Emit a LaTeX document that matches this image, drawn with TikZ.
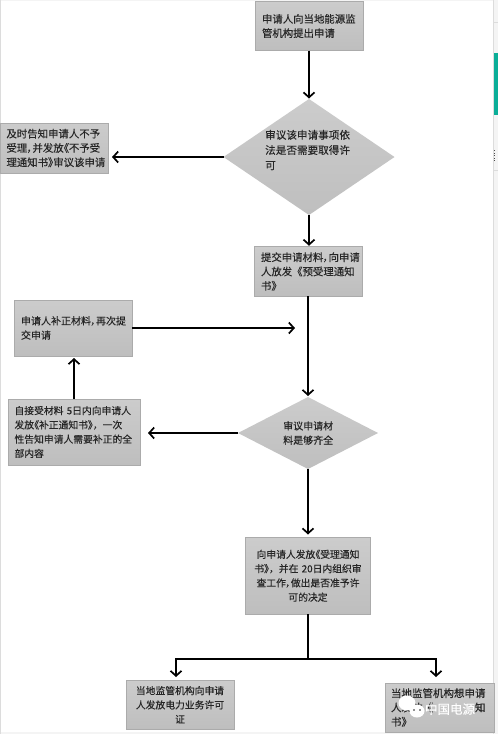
\documentclass[tikz,border=0pt]{standalone}
\usepackage{fontspec}
\setmainfont[FakeBold=0.25]{Noto Sans CJK SC}
\newfontfamily\halffont[RawFeature=+palt,FakeBold=0.25]{Noto Sans CJK SC}
\newcommand{\hw}[1]{{\halffont #1}}
\usetikzlibrary{arrows.meta,shapes.geometric}
\definecolor{ink}{HTML}{262626}
\definecolor{boxline}{HTML}{ABABAB}
\definecolor{boxtop}{HTML}{CCCCCC}
\definecolor{boxbot}{HTML}{BEBEBE}
\definecolor{strip}{HTML}{F4F4F4}
\definecolor{stripline}{HTML}{DCDCDC}
\definecolor{teal}{HTML}{0BAE98}
\tikzset{
  x=1pt,y=-1pt,
  boxn/.style n args={4}{draw=boxline,line width=.7pt,top color=boxtop,bottom color=boxbot,
    minimum width=#1pt,minimum height=#2pt,inner xsep=#3pt,inner ysep=0pt,outer sep=0pt,
    text width=#1pt-2*#3pt,text=ink,align=left,font=\fontsize{#4}{14.3}\selectfont},
  dia/.style n args={3}{diamond,draw=none,top color=boxtop,bottom color=boxbot!95!boxtop,minimum width=#1pt,minimum height=#2pt,
    aspect=#3,inner sep=0pt,outer sep=0pt},
  diatext/.style={anchor=west,inner sep=0pt,text=ink,align=left},
  arr/.style={draw=black,line width=1.7pt,-{Straight Barb[length=5pt,width=11pt,line width=1.7pt]}},
  plain/.style={draw=black,line width=1.7pt},
  bubble/.style={fill=white,draw=none},
  wmtext/.style={text=white,inner sep=0pt,font=\fontsize{12.5}{14}\selectfont},
}
\begin{document}
\begin{tikzpicture}
\useasboundingbox (0,0) rectangle (498,734);
\fill[white] (0,0) rectangle (498,734);
% screenshot frame
\fill[strip] (0,732) rectangle (498,734);
\fill[strip] (0,0) rectangle (498,1);
\fill[stripline] (0,0) rectangle (1,734);
\fill[strip] (493,0) rectangle (498,734);
\fill[stripline] (493,0) rectangle (494,734);
\fill[stripline] (494,22) rectangle (498,23);
\fill[stripline] (494,170) rectangle (498,171);
\fill[teal] (494,53) rectangle (498,115);
\foreach \yy in {150,152.5,...,160}{\fill[black!70] (494,\yy) rectangle (495,\yy+1);}

\node[boxn={108}{49}{6.5}{10.4}] (A) at (309.5,26) {申请人向当地能源监\\管机构提出申请};
\node[dia={171}{116}{1.474}] (D1) at (309,157) {};
\node[diatext,font=\fontsize{10.6}{15.2}\selectfont] (D1t) at (265,150) {审议该申请事项依\\法是否需要取得许\\可};
\node[boxn={108}{50}{6.5}{10.4}] (B) at (54,148) {及时告知申请人不予\\受理\hw{，}并发放\hw{《}不予受\\理通知书\hw{》}审议该申请};
\node[boxn={108}{49.5}{7}{10.4}] (C) at (308,271.5) {提交申请材料\hw{，}向申请\\人放发《预受理通知\\书》};
\node[boxn={118}{56}{7}{10}] (Dd) at (73,328) {申请人补正材料\hw{，}再次提\\交申请};
\node[boxn={132}{66}{6.5}{9.8}] (E) at (74,432) {自接受材料 5日内向申请人\\发放\hw{《}补正通知书\hw{》}，一次\\性告知申请人需要补正的全\\部内容};
\node[dia={140}{72}{1.944}] (D2) at (308,433) {};
\node[diatext,font=\fontsize{10}{14.3}\selectfont] (D2t) at (283,433) {审议申请材\\料是够齐全};
\node[boxn={125.5}{76.5}{3}{9.8},align=center] (F) at (308,575.75) {向申请人发放\hw{《}受理通知\\书\hw{》}，并在 20日内组织审\\查工作\hw{，}做出是否准予许\\可的决定};
\node[boxn={108}{49.5}{6}{9.8},align=center] (G) at (180,704.75) {当地监管机构向申请\\人发放电力业务许可\\证};
\node[boxn={109}{49}{6}{10.5}] (H) at (439.5,707.5) {当地监管机构想申请\\人发放《\hspace{4em}知\\书》};

\coordinate (m) at (295,328);
\coordinate (j) at (308,659);
\coordinate (tipL) at (176,677);
\coordinate (tipR) at (436,677);

\draw[arr,shorten >=.5pt] (A.south -| D1.north) -- (D1.north);
\draw[arr,shorten >=4pt] (D1.west) -- (D1.west -| B.east);
\draw[arr,shorten >=1pt] (D1.south) -- (D1.south |- C.north);
\draw[arr,shorten >=1pt] (C.south) -- (D2.north);
\draw[arr] (Dd.east) -- (m);
\draw[arr,shorten >=2pt] (E.north) -- (E.north |- Dd.south);
\draw[arr,shorten >=8pt] (D2.west) -- (D2.west -| E.east);
\draw[arr,shorten >=3pt] (D2.south) -- (F.north -| D2.south);
\draw[plain] (F.south) -- (j);
\draw[arr] (j) -| (tipL);
\draw[arr] (j) -| (tipR);

% watermark
\fill[bubble] (407,703) ellipse (8.5 and 7.5);
\fill[bubble] (417,711) ellipse (7.5 and 6.5);
\fill[ink] (414,710) circle (.8) (420,710) circle (.8);
\node[wmtext] (wm) at (450,709) {中国电源};
\end{tikzpicture}
\end{document}
